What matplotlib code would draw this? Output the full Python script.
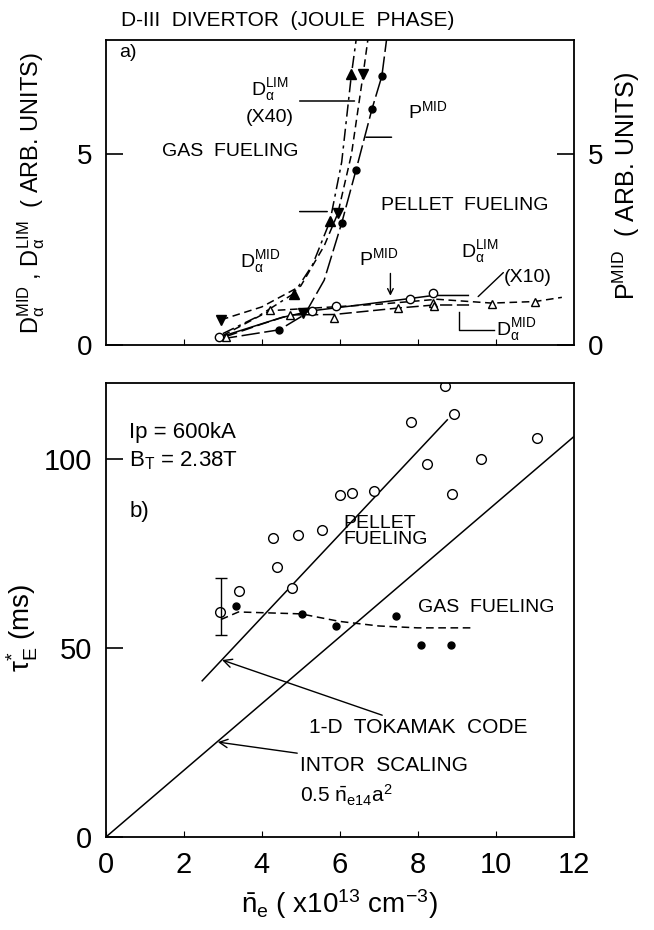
import numpy as np
import matplotlib.pyplot as plt

plt.rcParams['font.family'] = ['Liberation Sans', 'DejaVu Sans']
plt.rcParams['mathtext.default'] = 'regular'
plt.rcParams['lines.linewidth'] = 1.1

# ---- panel a) : signals vs density (gas / pellet fueling)
gas_dlim_x = [2.95, 5.05, 5.95, 6.6]
gas_dlim_y = [0.66, 0.84, 3.45, 7.1]
gas_dmid_x = [4.82, 5.75, 6.3]
gas_dmid_y = [1.35, 3.25, 7.1]
gas_pmid_x = [4.45, 6.05, 6.42, 6.83, 7.08]
gas_pmid_y = [0.4, 3.2, 4.6, 6.2, 7.05]

# hand drawn curves through the gas points
gas_dmid_fit_x = [3.0, 3.9, 4.82, 5.3, 5.75, 6.05, 6.3, 6.42]
gas_dmid_fit_y = [0.3, 0.75, 1.35, 2.1, 3.25, 4.8, 7.1, 8.0]
gas_dlim_fit_x = [2.95, 4.0, 5.0, 5.6, 5.95, 6.3, 6.6, 6.72]
gas_dlim_fit_y = [0.66, 1.0, 1.55, 2.6, 3.45, 5.0, 7.1, 8.0]
gas_pmid_fit_x = [2.9, 4.45, 5.1, 5.6, 6.05, 6.42, 6.83, 7.08, 7.2]
gas_pmid_fit_y = [0.15, 0.4, 0.8, 1.7, 3.2, 4.6, 6.2, 7.05, 8.0]

pel_pmid_x = [2.9, 5.3, 5.9, 7.8, 8.4]
pel_pmid_y = [0.2, 0.9, 1.03, 1.21, 1.37]
pel_dlim_x = [4.2, 7.5, 8.4, 9.9, 11.0]
pel_dlim_y = [0.92, 0.97, 1.1, 1.08, 1.14]
pel_dmid_x = [3.07, 4.73, 5.84, 8.42]
pel_dmid_y = [0.22, 0.79, 0.71, 1.03]

pel_pmid_fit_x = [2.9, 4.5, 5.3, 6.5, 7.8, 8.4, 9.3]
pel_pmid_fit_y = [0.2, 0.72, 0.9, 1.05, 1.22, 1.3, 1.3]
pel_dlim_fit_x = [3.0, 4.2, 5.5, 7.0, 8.5, 9.9, 11.0, 11.7]
pel_dlim_fit_y = [0.25, 0.9, 0.98, 1.07, 1.2, 1.1, 1.14, 1.25]
pel_dmid_fit_x = [3.07, 4.0, 4.73, 5.84, 7.5, 8.42, 9.4]
pel_dmid_fit_y = [0.22, 0.55, 0.79, 0.8, 0.97, 1.05, 1.05]

# ---- panel b) : confinement time
pel_tau_x = [2.93, 3.41, 4.28, 4.38, 4.78, 4.92, 5.55, 6.01, 6.32, 6.88,
             7.82, 8.23, 8.69, 8.87, 8.92, 9.63, 11.06]
pel_tau_y = [59.5, 65.1, 79.1, 71.4, 65.9, 79.9, 81.2, 90.5, 91.0, 91.5,
             109.8, 98.7, 119.3, 90.7, 111.9, 100.0, 105.5]
err_x, err_lo, err_hi = 2.95, 53.5, 68.5

gas_tau_x = [3.35, 5.02, 5.91, 7.44, 8.08, 8.85]
gas_tau_y = [61.1, 59.0, 55.8, 58.5, 50.8, 50.8]
gas_tau_fit_x = [2.95, 3.4, 5.0, 6.0, 7.0, 8.0, 9.4]
gas_tau_fit_y = [57.5, 59.5, 59.0, 57.0, 55.8, 55.3, 55.3]

code_x = [2.47, 8.76]
code_y = [41.3, 110.3]
intor_x = [0, 12]
intor_y = [0, 105.8]

fig = plt.figure(figsize=(6.54, 9.3), dpi=100)
ax1 = fig.add_axes([0.162, 0.629, 0.715, 0.328])
ax2 = fig.add_axes([0.162, 0.100, 0.715, 0.488])

k = 'black'
# panel a
ax1.plot(gas_dmid_fit_x, gas_dmid_fit_y, color=k, ls=(0, (8, 3, 2, 3)))
ax1.plot(gas_dlim_fit_x, gas_dlim_fit_y, color=k, ls=(0, (5, 3)))
ax1.plot(gas_pmid_fit_x, gas_pmid_fit_y, color=k, ls=(0, (12, 3)))
ax1.plot(pel_pmid_fit_x, pel_pmid_fit_y, color=k)
ax1.plot(pel_dlim_fit_x, pel_dlim_fit_y, color=k, ls=(0, (5, 3)))
ax1.plot(pel_dmid_fit_x, pel_dmid_fit_y, color=k, ls=(0, (8, 3)))

ax1.plot(gas_dlim_x, gas_dlim_y, 'v', color=k, ms=7)
ax1.plot(gas_dmid_x, gas_dmid_y, '^', color=k, ms=7)
ax1.plot(gas_pmid_x, gas_pmid_y, 'o', color=k, ms=5)
ax1.plot(pel_pmid_x, pel_pmid_y, 'o', mfc='white', mec=k, ms=6)
ax1.plot(pel_dlim_x, pel_dlim_y, '^', mfc='white', mec=k, ms=6)
ax1.plot(pel_dmid_x, pel_dmid_y, '^', mfc='white', mec=k, ms=6)

ax1.set_xlim(0, 12)
ax1.set_ylim(0, 8.0)
ax1.set_xticks([2, 4, 6, 8, 10])
ax1.set_xticklabels([])
ax1.set_yticks([0, 5])
ax1.tick_params(axis='y', which='both', direction='in', length=12, width=1.2,
                labelsize=20, right=True, labelright=True, pad=10)
ax1.tick_params(axis='x', direction='in', length=4, top=False)
ax1.set_ylabel(r'D$_\alpha^{MID}$ , D$_\alpha^{LIM}$  ( ARB. UNITS)', fontsize=17)
ax1.yaxis.set_label_coords(-0.125, 0.5)
fig.text(0.958, 0.80, r'P$^{MID}$  ( ARB. UNITS)', fontsize=18, rotation=90,
         ha='center', va='center')

fs = 14
ax1.text(0.35, 7.55, 'a)', fontsize=fs)
ax1.text(4.2, 6.55, r'D$_\alpha^{LIM}$', fontsize=fs, ha='center')
ax1.text(4.2, 5.85, '(X40)', fontsize=fs, ha='center')
ax1.annotate('', xy=(6.45, 6.4), xytext=(4.9, 6.4), arrowprops=dict(arrowstyle='-', lw=1.1))
ax1.text(7.75, 5.95, r'P$^{MID}$', fontsize=fs)
ax1.annotate('', xy=(6.6, 5.45), xytext=(7.4, 5.45), arrowprops=dict(arrowstyle='-', lw=1.1))
ax1.text(1.45, 4.95, 'GAS  FUELING', fontsize=fs)
ax1.annotate('', xy=(5.75, 3.5), xytext=(4.9, 3.5), arrowprops=dict(arrowstyle='-', lw=1.1))
ax1.text(7.05, 3.55, 'PELLET  FUELING', fontsize=fs)
ax1.text(3.45, 2.05, r'D$_\alpha^{MID}$', fontsize=fs)
ax1.text(6.5, 2.1, r'P$^{MID}$', fontsize=fs)
ax1.annotate('', xy=(7.3, 1.22), xytext=(7.3, 1.95),
             arrowprops=dict(arrowstyle='->', lw=1.0))
ax1.text(9.1, 2.3, r'D$_\alpha^{LIM}$', fontsize=fs)
ax1.text(10.2, 1.65, '(X10)', fontsize=fs)
ax1.annotate('', xy=(9.5, 1.22), xytext=(10.25, 1.95), arrowprops=dict(arrowstyle='-', lw=1.0))
ax1.text(10.0, 0.25, r'D$_\alpha^{MID}$', fontsize=fs)
ax1.plot([9.07, 9.07, 9.95], [0.87, 0.4, 0.4], color=k, lw=1.0)

# panel b
ax2.plot(intor_x, intor_y, color=k)
ax2.plot(code_x, code_y, color=k)
ax2.plot(gas_tau_fit_x, gas_tau_fit_y, color=k, ls=(0, (5, 3)))
ax2.plot(pel_tau_x, pel_tau_y, 'o', mfc='white', mec=k, ms=7)
ax2.plot(gas_tau_x, gas_tau_y, 'o', color=k, ms=5)
ax2.errorbar([err_x], [(err_lo + err_hi) / 2], yerr=[[(err_hi - err_lo) / 2]] * 2,
             fmt='none', ecolor=k, capsize=4, lw=1.0)

ax2.set_xlim(0, 12)
ax2.set_ylim(0, 120)
ax2.set_xticks([0, 2, 4, 6, 8, 10, 12])
ax2.set_yticks([0, 50, 100])
ax2.tick_params(axis='y', direction='in', length=12, width=1.2, labelsize=21, pad=10)
ax2.tick_params(axis='x', direction='in', length=4, labelsize=21, pad=10)
ax2.set_xlabel(r'$\bar{n}_e$ ( x10$^{13}$ cm$^{-3}$)', fontsize=20, labelpad=6)
ax2.set_ylabel(r'$\tau_E^{*}$ (ms)', fontsize=20)
ax2.yaxis.set_label_coords(-0.14, 0.46)

ax2.text(0.6, 105.5, 'Ip = 600kA', fontsize=16)
ax2.text(0.6, 98.0, r'B$_T$ = 2.38T', fontsize=16)
ax2.text(0.6, 84.5, 'b)', fontsize=16)
ax2.text(6.1, 77.5, 'PELLET\nFUELING', fontsize=14, linespacing=0.95)
ax2.text(8.0, 59.5, 'GAS  FUELING', fontsize=14)
ax2.annotate('1-D  TOKAMAK  CODE', xy=(2.98, 46.8), xytext=(5.2, 27.5),
             fontsize=15, arrowprops=dict(arrowstyle='->', lw=1.0, shrinkA=0, shrinkB=0))
ax2.annotate('INTOR  SCALING', xy=(2.87, 25.1), xytext=(4.98, 17.5),
             fontsize=15, arrowprops=dict(arrowstyle='->', lw=1.0, shrinkA=0, shrinkB=0))
ax2.text(4.98, 9.0, r'0.5 $\bar{n}_{e14}$a$^2$', fontsize=15)

for ax in (ax1, ax2):
    for s in ax.spines.values():
        s.set_linewidth(1.3)

fig.text(0.44, 0.978, 'D-III  DIVERTOR  (JOULE  PHASE)', fontsize=15, ha='center', va='center')

plt.savefig('out.png', dpi=100)
